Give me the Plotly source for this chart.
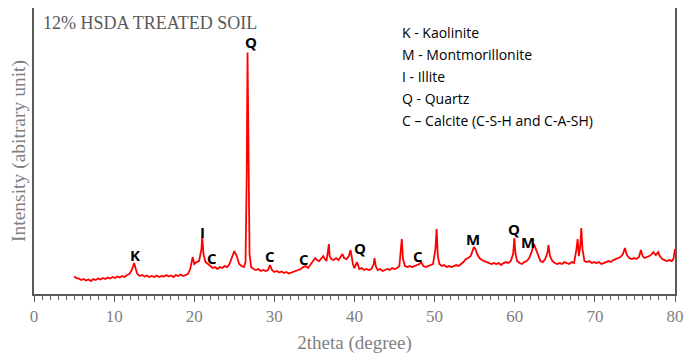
import plotly.graph_objects as go

# 2theta (degree) and intensity (arbitrary units)
two_theta = [5.0, 5.3, 5.6, 5.9, 6.2, 6.5, 6.8, 7.1, 7.4, 7.7, 8.0, 8.3, 8.6, 8.9, 9.2, 9.5, 9.8,
             10.1, 10.4, 10.7, 11.0, 11.3, 11.6, 11.9, 12.2, 12.4, 12.5, 12.7, 12.9, 13.2, 13.5,
             13.8, 14.1, 14.4, 14.7, 15.0, 15.3, 15.6, 15.9, 16.2, 16.5, 16.8, 17.1, 17.4, 17.7,
             18.0, 18.3, 18.6, 18.9, 19.2, 19.5, 19.8, 20.0, 20.3, 20.6, 20.9, 21.0, 21.15, 21.4,
             21.7, 22.0, 22.3, 22.6, 22.9, 23.2, 23.5, 23.8, 24.1, 24.4, 24.7, 25.0, 25.3, 25.6,
             25.9, 26.2, 26.4, 26.55, 26.65, 26.75, 26.9, 27.1, 27.4, 27.7, 28.0, 28.3, 28.6,
             28.9, 29.2, 29.45, 29.7, 30.0, 30.3, 30.6, 30.9, 31.2, 31.5, 31.8, 32.1, 32.4, 32.7,
             33.0, 33.3, 33.6, 33.9, 34.2, 34.5, 34.8, 35.1, 35.3, 35.6, 35.9, 36.1, 36.3, 36.5,
             36.7, 36.8, 36.9, 37.1, 37.4, 37.7, 38.0, 38.3, 38.5, 38.7, 39.0, 39.3, 39.5, 39.6,
             39.8, 40.0, 40.3, 40.4, 40.6, 40.9, 41.2, 41.5, 41.8, 42.1, 42.4, 42.5, 42.65, 42.9,
             43.2, 43.5, 43.8, 44.1, 44.4, 44.7, 45.0, 45.3, 45.6, 45.8, 45.9, 46.05, 46.3, 46.6,
             46.9, 47.2, 47.5, 47.8, 48.1, 48.3, 48.6, 48.9, 49.2, 49.5, 49.8, 50.1, 50.25, 50.4,
             50.6, 50.9, 51.2, 51.5, 51.8, 52.1, 52.4, 52.7, 53.0, 53.3, 53.6, 53.9, 54.2, 54.5,
             54.7, 54.9, 55.1, 55.3, 55.6, 55.9, 56.2, 56.5, 56.8, 57.1, 57.4, 57.7, 58.0, 58.3,
             58.6, 58.9, 59.2, 59.5, 59.8, 59.95, 60.1, 60.3, 60.6, 60.9, 61.2, 61.5, 61.8, 62.1,
             62.4, 62.6, 62.9, 63.2, 63.5, 63.8, 64.1, 64.2, 64.4, 64.7, 65.0, 65.3, 65.6, 65.9,
             66.2, 66.5, 66.8, 67.1, 67.4, 67.7, 67.85, 68.0, 68.2, 68.3, 68.45, 68.7, 69.0, 69.3,
             69.6, 69.9, 70.2, 70.5, 70.8, 71.1, 71.4, 71.7, 72.0, 72.3, 72.6, 72.9, 73.2, 73.5,
             73.75, 74.0, 74.3, 74.6, 74.9, 75.2, 75.5, 75.75, 75.95, 76.2, 76.5, 76.8, 77.1,
             77.3, 77.6, 77.9, 78.1, 78.4, 78.7, 79.0, 79.3, 79.6, 79.8, 80.0]

intensity = [17.5, 16, 15.5, 14, 15, 13.5, 14.5, 13, 15, 14, 15.5, 14.5, 16, 15, 16.5, 15.5, 17,
             16, 17.5, 16.5, 18, 17, 19, 20, 24, 30, 31, 25, 20, 18, 19,
             17.5, 18.5, 17, 18, 17, 18.5, 17, 18, 17.5, 19, 17.5, 18.5, 17, 19,
             18, 19.5, 18, 19, 20, 25, 37, 30, 32, 33, 45, 57, 40, 32,
             30, 28, 26, 27, 25, 27, 26, 28, 27, 30, 36, 43, 38, 30,
             28, 27, 32, 120, 242, 150, 40, 27, 25, 24, 25, 23, 24,
             23, 24, 29, 24, 22, 23, 21.5, 22.5, 21, 22, 20.5, 21.5, 22, 23,
             24, 25, 27, 28, 26, 29, 33, 36, 34, 33, 36, 38, 35, 33,
             44, 50, 38, 35, 34, 36, 34, 37, 40, 36, 35, 38, 44, 40,
             30, 26, 32, 30, 25, 26, 24, 25, 24, 25, 30, 36, 28, 24,
             25, 23, 24, 25, 24, 26, 25, 26, 28, 45, 55, 35, 28, 27,
             28, 27, 28, 29, 30, 32, 28, 27, 28, 29, 30, 45, 65, 38,
             30, 28, 29, 27, 28, 27, 28, 29, 28, 30, 32, 35, 36, 38,
             42, 47, 45, 40, 36, 34, 33, 32, 31, 30, 31, 30, 31, 29,
             31, 32, 31, 33, 40, 56, 40, 33, 31, 30, 32, 33, 36, 42,
             50, 46, 38, 33, 32, 35, 42, 49, 38, 33, 31, 30, 31, 30,
             32, 31, 30, 32, 31, 45, 55, 38, 50, 66, 45, 33, 32, 33,
             31, 32, 31, 32, 30, 31, 32, 33, 32, 34, 35, 36, 37, 40,
             46, 39, 36, 35, 36, 35, 37, 44, 38, 36, 37, 38, 40,
             42, 39, 42, 38, 35, 34, 33, 34, 33, 35, 45]

# phase labels over the peaks
label_text = ["Q", "K", "I", "C", "C", "C", "Q", "C", "M", "Q", "M"]
label_x = [27.1, 12.6, 21.0, 22.2, 29.5, 33.7, 40.7, 47.9, 54.8, 59.9, 61.7]
label_y = [252, 39, 62, 36, 38, 35, 46, 38, 55, 65, 52]

legend_lines = ["K - Kaolinite", "M - Montmorillonite", "I - Illite", "Q - Quartz",
                "C \u2013 Calcite (C-S-H and C-A-SH)"]

fig = go.Figure()
fig.add_trace(go.Scatter(x=two_theta, y=intensity, mode="lines",
                         line=dict(color="#ff0000", width=1.8), showlegend=False))

for t, x, y in zip(label_text, label_x, label_y):
    fig.add_annotation(x=x, y=y, text=f"<b>{t}</b>", showarrow=False,
                       font=dict(family="Open Sans", size=15, color="black"))

fig.add_annotation(xref="paper", yref="paper", x=0.011, y=0.99, xanchor="left", yanchor="top",
                   text="12% HSDA TREATED SOIL", showarrow=False,
                   font=dict(family="Liberation Serif", size=18, color="#595959"))

for i, line in enumerate(legend_lines):
    fig.add_annotation(xref="paper", yref="paper", x=0.571, y=0.916 - i * 0.077,
                       xanchor="left", yanchor="middle", text=line, showarrow=False,
                       font=dict(family="Open Sans", size=14, color="black"))

fig.update_layout(
    width=700, height=357,
    margin=dict(l=26, r=33, t=0, b=71),
    paper_bgcolor="white", plot_bgcolor="white",
    xaxis=dict(range=[0, 80], dtick=10, ticks="outside", ticklen=6, tickwidth=1.2,
               tickcolor="#595959", showline=True, linecolor="#595959", linewidth=1.5,
               mirror=True, showgrid=False, zeroline=False, automargin=False,
               minor=dict(dtick=1, ticks="outside", ticklen=4, tickcolor="#595959", tickwidth=1),
               tickfont=dict(family="Liberation Serif", size=17, color="#7f7f7f"),
               title=dict(text="2theta (degree)", standoff=11,
                          font=dict(family="Liberation Serif", size=19, color="#7f7f7f"))),
    yaxis=dict(range=[0, 286.5], showticklabels=False, ticks="", showline=True,
               linecolor="#595959", linewidth=1.5, mirror=True, showgrid=False,
               zeroline=False, automargin=False,
               title=dict(text="Intensity (abitrary unit)", standoff=3,
                          font=dict(family="Liberation Serif", size=19.5, color="#7f7f7f"))),
)

fig.write_html("out.html")
